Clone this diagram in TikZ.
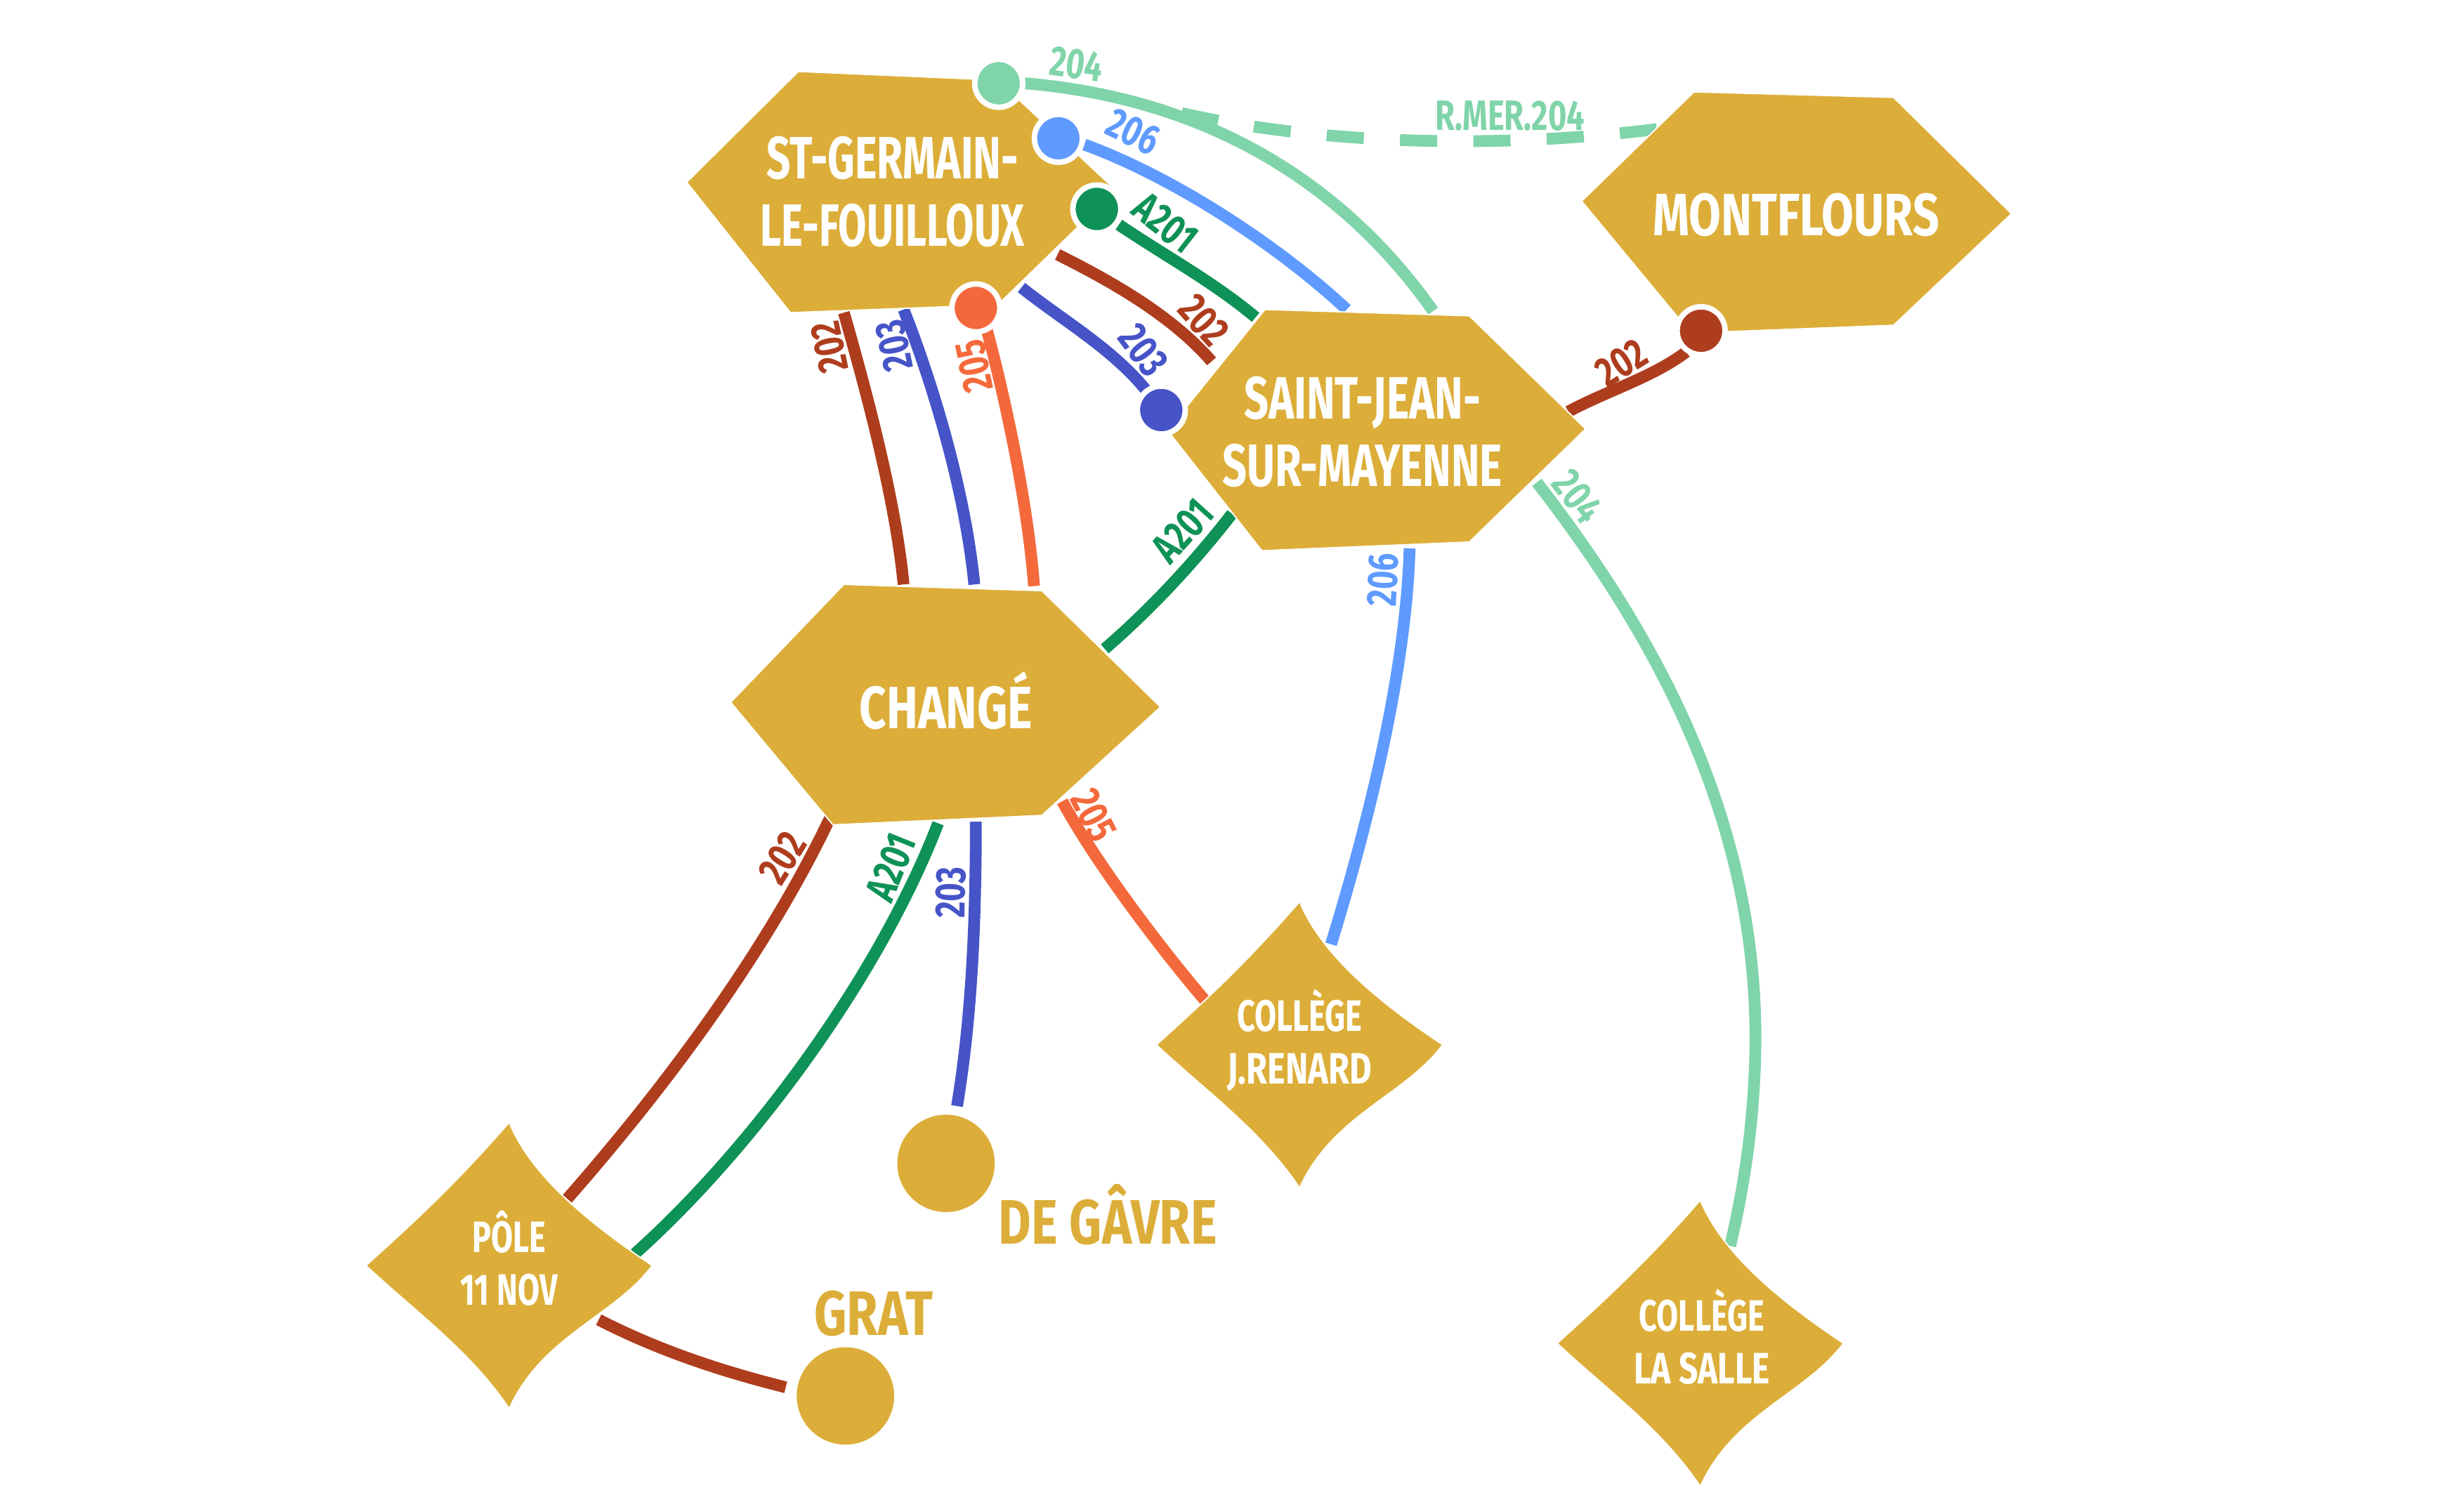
\documentclass[tikz,border=0pt]{standalone}
\usepackage{graphicx}
\usepackage{fontspec}
\setmainfont{Fira Sans}[FakeStretch=0.72]
\newfontfamily\lblfont{Fira Sans}[FakeStretch=0.75]
\newcommand\xs[2]{\scalebox{#1}[1]{#2}}
\definecolor{gold}{HTML}{DCAE39}
\definecolor{mint}{HTML}{80D4AA}
\definecolor{sky}{HTML}{5F9BFF}
\definecolor{forest}{HTML}{0F9257}
\definecolor{rust}{HTML}{AE3D1E}
\definecolor{indigo}{HTML}{4654C8}
\definecolor{coral}{HTML}{F4693C}
\tikzset{
  shapebody/.style={fill=gold,draw=white,line width=0.8pt,line join=miter},
  bigtext/.style={text=white,align=center,inner sep=0pt,font=\bfseries\fontsize{38}{43}\selectfont},
  smalltext/.style={text=white,align=center,inner sep=0pt,font=\bfseries\fontsize{28}{33.5}\selectfont},
  goldtext/.style={text=gold,inner sep=0pt,font=\bfseries\fontsize{40}{44}\selectfont},
  linelabel/.style={inner sep=0pt,font=\lblfont\bfseries\fontsize{27}{30}\selectfont},
  route/.style={line width=7.5pt},
  dot/.style={circle,draw=white,line width=3.5pt,minimum size=30.5pt,inner sep=0pt},
  stopdot/.style={circle,fill=gold,minimum size=62pt,inner sep=0pt},
}
\newcommand\dmdshape[2]{%
  \begin{scope}[shift={(#1,#2)},scale=1.012]
  \filldraw[shapebody] (0,-90) .. controls (14,-56) and (51,-26) .. (90,0)
    .. controls (66,32) and (21,44) .. (0,90)
    .. controls (-24,54) and (-59,29) .. (-90,0)
    .. controls (-59,-28) and (-34,-51) .. (0,-90) -- cycle;
  \end{scope}}
\begin{document}
\begin{tikzpicture}[x=1pt,y=-1pt]
\useasboundingbox (0,0) rectangle (1568,959);
% ports
\coordinate (m1a) at (652,53); \coordinate (m1b) at (912,198);
\coordinate (m2a) at (978,307); \coordinate (m2m) at (1117,670); \coordinate (m2b) at (1101,793);
\coordinate (mera) at (752,72); \coordinate (merb) at (1070,80);
\coordinate (s1a) at (690,92); \coordinate (s1b) at (857,197);
\coordinate (s2a) at (897,349); \coordinate (s2b) at (847,601);
\coordinate (f1a) at (712,143); \coordinate (f1b) at (799,202);
\coordinate (f2a) at (703,413); \coordinate (f2b) at (784,327);
\coordinate (f3a) at (597,524); \coordinate (f3b) at (404,798);
\coordinate (r1a) at (673,162); \coordinate (r1b) at (771,230);
\coordinate (r2a) at (537,199); \coordinate (r2b) at (575,372);
\coordinate (r3a) at (998,262); \coordinate (r3b) at (1073,224);
\coordinate (r4a) at (528,521); \coordinate (r4b) at (361,763);
\coordinate (r5a) at (381,840); \coordinate (r5b) at (500,883);
\coordinate (i1a) at (650,183); \coordinate (i1b) at (729,248);
\coordinate (i2a) at (575,197); \coordinate (i2b) at (620,372);
\coordinate (i3a) at (621,523); \coordinate (i3b) at (609,704);
\coordinate (c1a) at (628,210); \coordinate (c1b) at (658,373);
\coordinate (c2a) at (676,510); \coordinate (c2b) at (767,637);
% connectors
\draw[route,mint,dash pattern=on 23.7pt off 23pt] (mera) .. controls (840,92) and (960,96) .. (merb);
\draw[route,mint] (m1a) .. controls (760,62) and (850,110) .. (m1b);
\draw[route,mint] (m2a) .. controls (1050,400) and (1120,520) .. (m2m) .. controls (1116,715) and (1110,755) .. (m2b);
\draw[route,sky] (s1a) .. controls (745,112) and (812,155) .. (s1b);
\draw[route,sky] (s2a) .. controls (895,420) and (875,510) .. (s2b);
\draw[route,forest] (f1a) .. controls (740,162) and (773,180) .. (f1b);
\draw[route,forest] (f2a) .. controls (732,388) and (760,358) .. (f2b);
\draw[route,forest] (f3a) .. controls (560,620) and (480,730) .. (f3b);
\draw[route,rust] (r1a) .. controls (705,178) and (745,200) .. (r1b);
\draw[route,rust] (r2a) .. controls (553,255) and (570,320) .. (r2b);
\draw[route,rust] (r3a) .. controls (1022,249) and (1052,240) .. (r3b);
\draw[route,rust] (r4a) .. controls (488,605) and (425,690) .. (r4b);
\draw[route,rust] (r5a) .. controls (420,860) and (460,873) .. (r5b);
\draw[route,indigo] (i1a) .. controls (675,203) and (708,222) .. (i1b);
\draw[route,indigo] (i2a) .. controls (592,240) and (614,310) .. (i2b);
\draw[route,indigo] (i3a) .. controls (621,590) and (618,650) .. (i3b);
\draw[route,coral] (c1a) .. controls (640,255) and (654,320) .. (c1b);
\draw[route,coral] (c2a) .. controls (695,545) and (733,597) .. (c2b);
% hexagons
\filldraw[shapebody] (508,45.5) -- (635,51) -- (710,121) -- (635,194) -- (503,199) -- (437,116) -- cycle;
\filldraw[shapebody] (805,197) -- (935,201) -- (1009,273) -- (935,345) -- (803,350.5) -- (743,274) -- cycle;
\filldraw[shapebody] (1078,58.5) -- (1205,62) -- (1280,136) -- (1205,207) -- (1076,212) -- (1006.5,128) -- cycle;
\filldraw[shapebody] (537,372) -- (663,376) -- (738.5,450) -- (663,519) -- (530,525) -- (465,447) -- cycle;
% diamonds
\dmdshape{324}{805.5}
\dmdshape{827}{665}
\dmdshape{1082}{855}
% stops
\node[stopdot] (degavre) at (602,740.5) {};
\node[stopdot] (grat) at (538,888.5) {};
% route end dots
\node[dot,fill=mint] (dmint) at (635.5,53) {};
\node[dot,fill=sky] (dsky) at (673.5,88) {};
\node[dot,fill=forest] (dforest) at (698,133) {};
\node[dot,fill=coral] (dcoral) at (621,196) {};
\node[dot,fill=indigo] (dindigo) at (739,261) {};
\node[dot,fill=rust] (drust) at (1082.5,210.5) {};
% names
\node[bigtext] (stg) at (568,122) {\xs{.98}{ST-GERMAIN-}\\\xs{.955}{LE-FOUILLOUX}};
\node[bigtext] (sjm) at (867,275) {SAINT-JEAN-\\SUR-MAYENNE};
\node[bigtext] (mtf) at (1143,137) {\xs{1.084}{MONTFLOURS}};
\node[bigtext] (chg) at (602,446) {\xs{1.1}{CHANGÉ}};
\node[smalltext] (pole) at (324,801) {PÔLE\\11 NOV};
\node[smalltext] (ren) at (827,662) {COLLÈGE\\\xs{1.08}{J.RENARD}};
\node[smalltext] (sal) at (1083,851) {COLLÈGE\\\xs{1.06}{LA SALLE}};
\node[goldtext] (ldg) at (705,773) {\xs{1.11}{DE GÂVRE}};
\node[goldtext] (lgr) at (556,836) {\xs{1.12}{GRAT}};
% line labels
\node[linelabel,text=mint,rotate=-8] (l1) at (685,41) {204};
\node[linelabel,text=mint] (l2) at (961,74) {R.MER.204};
\node[linelabel,text=mint,rotate=-52] (l3) at (1004,316) {204};
\node[linelabel,text=sky,rotate=-26] (l4) at (721,84) {206};
\node[linelabel,text=sky,rotate=87] (l5) at (880,369) {206};
\node[linelabel,text=forest,rotate=-38] (l6) at (741.5,142) {A201};
\node[linelabel,text=forest,rotate=48] (l7) at (752.5,338) {A201};
\node[linelabel,text=forest,rotate=68] (l8) at (567,552) {A201};
\node[linelabel,text=rust,rotate=-48] (l9) at (766,204) {202};
\node[linelabel,text=rust,rotate=102] (l10) at (528,221) {202};
\node[linelabel,text=rust,rotate=32] (l11) at (1032,231) {202};
\node[linelabel,text=rust,rotate=58] (l12) at (498,546) {202};
\node[linelabel,text=indigo,rotate=-53] (l13) at (727.5,223) {203};
\node[linelabel,text=indigo,rotate=102] (l14) at (569,220) {203};
\node[linelabel,text=indigo,rotate=89] (l15) at (605,568) {203};
\node[linelabel,text=coral,rotate=102] (l16) at (620,233) {205};
\node[linelabel,text=coral,rotate=-63] (l17) at (696,519) {205};
\end{tikzpicture}
\end{document}
